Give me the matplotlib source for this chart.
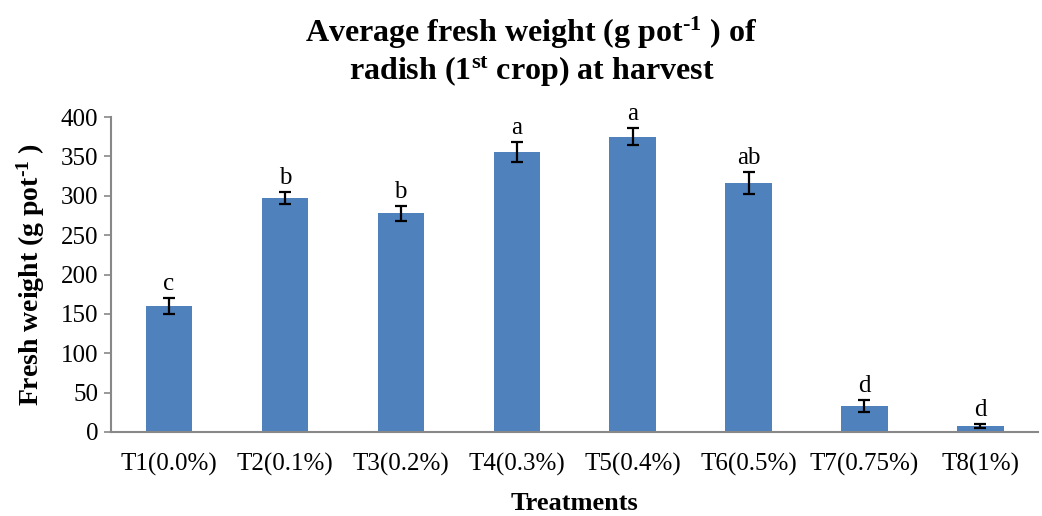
import numpy as np
import matplotlib; matplotlib.use("Agg")
import matplotlib.pyplot as plt

treatments = ["T1(0.0%)", "T2(0.1%)", "T3(0.2%)", "T4(0.3%)", "T5(0.4%)", "T6(0.5%)", "T7(0.75%)", "T8(1%)"]
fresh_wt = [160, 297, 278, 356, 375, 316, 33, 7.5]
err = [10, 8, 9.5, 12.5, 11, 14, 7.5, 2.5]
letters = ["c", "b", "b", "a", "a", "ab", "d", "d"]

plt.rcParams["font.family"] = ["Liberation Serif", "DejaVu Serif"]
plt.rcParams["mathtext.fontset"] = "custom"
plt.rcParams["mathtext.rm"] = "Liberation Serif:bold"
plt.rcParams["mathtext.bf"] = "Liberation Serif:bold"
plt.rcParams["mathtext.default"] = "bf"

fig = plt.figure(figsize=(10.42, 5.16), dpi=100)
ax = fig.add_axes([0.1065, 0.163, 0.89, 0.61])
x = np.arange(len(treatments))
ax.bar(x, fresh_wt, width=0.4, color="#4F81BD", zorder=2)
ax.errorbar(x, fresh_wt, yerr=err, fmt="none", ecolor="black", elinewidth=1.6, capsize=4, capthick=1.6, zorder=3)
for xi, v, e, l in zip(x, fresh_wt, err, letters):
    ax.annotate(l, (xi, v + e), xytext=(0, 2), textcoords="offset points", ha="center", va="bottom", fontsize=18)

ax.set_xlim(-0.5, len(treatments) - 0.5)
ax.set_ylim(0, 400)
ax.set_yticks(range(0, 401, 50))
ax.set_xticks(x)
ax.set_xticklabels(treatments, fontsize=18)
ax.tick_params(axis="y", labelsize=18, direction="out", length=5, color="#888888", width=1.2, pad=4)
ax.tick_params(axis="x", length=0, pad=15)
for s in ["top", "right"]:
    ax.spines[s].set_visible(False)
for s in ["left", "bottom"]:
    ax.spines[s].set_color("#888888")
    ax.spines[s].set_linewidth(1.5)

ax.set_ylabel(r"Fresh weight (g pot$^{\text{-}1}$ )", fontsize=20, fontweight="bold", labelpad=10)
ax.set_xlabel("Treatments", fontsize=19, fontweight="bold", labelpad=12)
fig.text(0.51, 0.90, "Average fresh weight (g pot$^{\\text{-}1}$ ) of\nradish (1$^{st}$ crop) at harvest",
         ha="center", va="center", fontsize=23, fontweight="bold", linespacing=1.15)

fig.savefig("out.png", dpi=100)
